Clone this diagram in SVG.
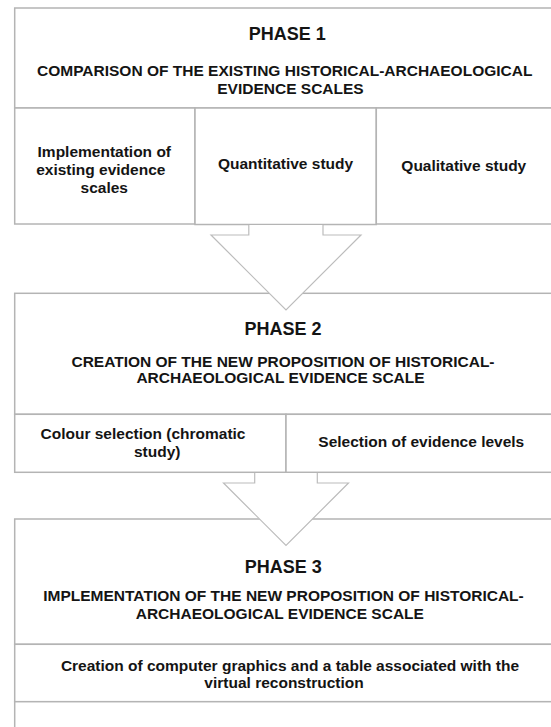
<svg xmlns="http://www.w3.org/2000/svg" width="551" height="727" viewBox="0 0 551 727">
<style>
.box{fill:#ffffff;stroke:#b4b4b4;stroke-width:1.5}
.arrow{fill:#ffffff;stroke:#bcbcbc;stroke-width:1.2;stroke-linejoin:miter}
text{font-family:"Liberation Sans",Arial,sans-serif;font-weight:bold;fill:#141414;text-anchor:middle}
.ph{font-size:18px}
.t{font-size:15.5px}
</style>
<rect width="551" height="727" fill="#ffffff"/>
<g id="phase1">
  <g id="phase1-header">
    <rect class="box" x="14.7" y="8" width="560" height="100"/>
    <text class="ph" x="287.3" y="39.5">PHASE 1</text>
    <text class="t" x="284.7" y="76">COMPARISON OF THE EXISTING HISTORICAL-ARCHAEOLOGICAL</text>
    <text class="t" x="290.5" y="94">EVIDENCE SCALES</text>
  </g>
  <g id="phase1-implementation">
    <rect class="box" x="14.7" y="108" width="180.3" height="116"/>
    <text class="t" x="104.3" y="156.7">Implementation of</text>
    <text class="t" x="100.8" y="175">existing evidence</text>
    <text class="t" x="104.3" y="193.3">scales</text>
  </g>
  <g id="phase1-quantitative">
    <rect class="box" x="195" y="108" width="181.3" height="116.5"/>
    <text class="t" x="285.5" y="169.3">Quantitative study</text>
  </g>
  <g id="phase1-qualitative">
    <rect class="box" x="376.3" y="108" width="200" height="116"/>
    <text class="t" x="463.8" y="171">Qualitative study</text>
  </g>
</g>
<g id="phase2">
  <g id="phase2-header">
    <rect class="box" x="14.7" y="293.3" width="560" height="121"/>
    <text class="ph" x="283" y="335.3">PHASE 2</text>
    <text class="t" x="283" y="366.5">CREATION OF THE NEW PROPOSITION OF HISTORICAL-</text>
    <text class="t" x="280.5" y="382.5">ARCHAEOLOGICAL EVIDENCE SCALE</text>
  </g>
  <g id="phase2-colour">
    <rect class="box" x="14.7" y="414.3" width="271.3" height="58"/>
    <text class="t" x="143" y="439.3">Colour selection (chromatic</text>
    <text class="t" x="157.2" y="457.3">study)</text>
  </g>
  <g id="phase2-levels">
    <rect class="box" x="286" y="414.3" width="290" height="58"/>
    <text class="t" x="421.3" y="446.7">Selection of evidence levels</text>
  </g>
</g>
<g id="phase3">
  <g id="phase3-header">
    <rect class="box" x="14.7" y="519" width="560" height="125.3"/>
    <text class="ph" x="283.3" y="572.7">PHASE 3</text>
    <text class="t" x="283.5" y="601">IMPLEMENTATION OF THE NEW PROPOSITION OF HISTORICAL-</text>
    <text class="t" x="279.8" y="619.3">ARCHAEOLOGICAL EVIDENCE SCALE</text>
  </g>
  <g id="phase3-graphics">
    <rect class="box" x="14.7" y="644.3" width="560" height="57.4"/>
    <text class="t" x="290" y="670.7">Creation of computer graphics and a table associated with the</text>
    <text class="t" x="284" y="687.7">virtual reconstruction</text>
  </g>
  <g id="phase3-rest">
    <rect class="box" x="14.7" y="701.7" width="560" height="40"/>
  </g>
</g>
<g id="connectors">
  <path class="arrow" d="M248.8,225 L248.8,235 L211,235 L286,310 L361,235 L323,235 L323,225"/>
  <path class="arrow" d="M254.7,473 L254.7,483 L223.5,483 L286,545.5 L348.5,483 L317.3,483 L317.3,473"/>
</g>
</svg>
